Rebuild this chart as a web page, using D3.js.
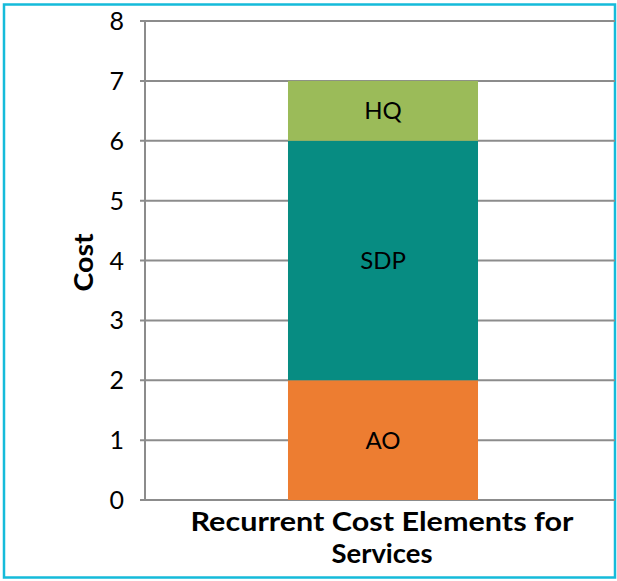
<!DOCTYPE html>
<html>
<head>
<meta charset="utf-8">
<script src="https://cdn.jsdelivr.net/npm/d3@7"></script>
<style>
  html, body { margin: 0; padding: 0; background: #fff; }
  svg { display: block; }
  text { font-family: Lato, "Open Sans", sans-serif; fill: #000; }
</style>
</head>
<body>
<svg id="chart" width="617" height="581"></svg>
<script>
const categories = ["Recurrent Cost Elements for Services"];
const seriesNames = ["AO", "SDP", "HQ"];
const seriesValues = [2, 4, 1];
const seriesColors = ["#ED7D31", "#078C82", "#9BBB59"];
const yTicks = [0, 1, 2, 3, 4, 5, 6, 7, 8];
const yTitle = "Cost";
const xTitleLines = ["Recurrent Cost Elements for", "Services"];

const svg = d3.select("#chart");

// outer border
svg.append("rect")
  .attr("x", 4).attr("y", 4.5).attr("width", 611).attr("height", 573)
  .attr("fill", "#fff").attr("stroke", "#15BBDA").attr("stroke-width", 2.5);

const plotLeft = 145, plotRight = 615;
const y = d3.scaleLinear().domain([0, 8]).range([500, 21]);
const x = d3.scaleBand().domain(categories).range([145, 621]).padding(0.4294);

// gridlines
svg.append("g").selectAll("line").data(yTicks).join("line")
  .attr("x1", plotLeft - 5).attr("x2", plotRight)
  .attr("y1", d => y(d)).attr("y2", d => y(d))
  .attr("stroke", "#8C8C8C").attr("stroke-width", 2);

// y axis line
svg.append("line")
  .attr("x1", plotLeft).attr("x2", plotLeft)
  .attr("y1", y(8)).attr("y2", y(0))
  .attr("stroke", "#8C8C8C").attr("stroke-width", 2);

// tick labels
svg.append("g").selectAll("text").data(yTicks).join("text")
  .attr("x", 124).attr("y", d => y(d))
  .attr("dy", "0.36em")
  .attr("text-anchor", "end")
  .attr("font-size", 25)
  .text(d => d);

// stacked bars
const stackData = [{}];
seriesNames.forEach((s, i) => stackData[0][s] = seriesValues[i]);
const stacked = d3.stack().keys(seriesNames)(stackData);

const segs = svg.append("g").selectAll("g").data(stacked).join("g");
segs.append("rect")
  .attr("x", x(categories[0]))
  .attr("width", x.bandwidth())
  .attr("y", d => y(d[0][1]))
  .attr("height", d => y(d[0][0]) - y(d[0][1]))
  .attr("fill", (d, i) => seriesColors[i]);
segs.append("text")
  .attr("x", x(categories[0]) + x.bandwidth() / 2)
  .attr("y", d => (y(d[0][0]) + y(d[0][1])) / 2)
  .attr("dy", "0.36em")
  .attr("text-anchor", "middle")
  .attr("font-size", 24)
  .text(d => d.key);

// y title
svg.append("text")
  .attr("transform", `translate(93, ${(y(0) + y(8)) / 2 + 2}) rotate(-90)`)
  .attr("text-anchor", "middle")
  .attr("font-size", 26)
  .attr("font-weight", "bold")
  .attr("textLength", 58)
  .attr("lengthAdjust", "spacingAndGlyphs")
  .text(yTitle);

// x title
const xt = svg.append("text")
  .attr("text-anchor", "middle")
  .attr("font-size", 26)
  .attr("font-weight", "bold");
const xLens = [383, 101];
xTitleLines.forEach((l, i) => {
  xt.append("tspan").attr("x", 382).attr("y", 531 + i * 32)
    .attr("textLength", xLens[i]).attr("lengthAdjust", "spacingAndGlyphs")
    .text(l);
});
</script>
</body>
</html>
